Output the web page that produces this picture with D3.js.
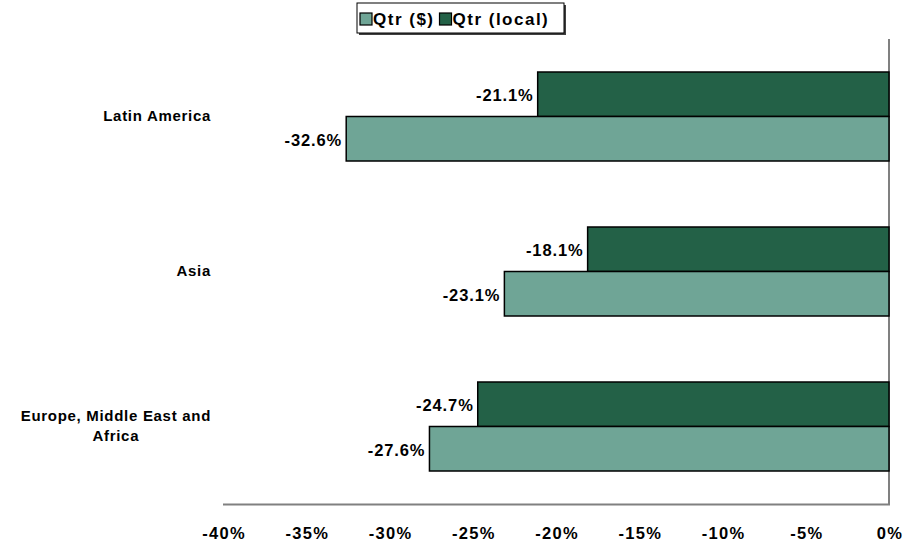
<!DOCTYPE html>
<html><head><meta charset="utf-8">
<script src="https://cdn.jsdelivr.net/npm/d3@7"></script>
<style>
body{margin:0;background:#fff;}
svg text{font-family:"Liberation Sans",Arial,sans-serif;font-weight:bold;fill:#000;}
</style></head>
<body><svg id="c" width="904" height="550"></svg>
<script>
const categories = ["Latin America", "Asia", "Europe, Middle East and Africa"];
const categoryLines = [["Latin America"], ["Asia"], ["Europe, Middle East and", "Africa"]];
const seriesNames = ["Qtr (local)", "Qtr ($)"];
const legendNames = ["Qtr ($)", "Qtr (local)"];
const qtrLocal = [-21.1, -18.1, -24.7];
const qtrUSD = [-32.6, -23.1, -27.6];
const xTicks = [-40, -35, -30, -25, -20, -15, -10, -5, 0];
const colors = {"Qtr ($)": "#6fa596", "Qtr (local)": "#236147"};

const svg = d3.select("#c");
const x = d3.scaleLinear().domain([-40, 0]).range([223, 889]);
const y = d3.scaleBand().domain(categories).range([39, 504]).paddingInner(66/155).paddingOuter(33/155);
const ys = d3.scaleBand().domain(seriesNames).range([0, y.bandwidth()]);

const data = [];
categories.forEach((c, i) => {
  data.push({cat: c, s: "Qtr (local)", v: qtrLocal[i]});
  data.push({cat: c, s: "Qtr ($)", v: qtrUSD[i]});
});

// axes lines
svg.append("line").attr("x1", x(-40)).attr("x2", x(0)+1).attr("y1", 504.5).attr("y2", 504.5)
  .attr("stroke", "#808080").attr("stroke-width", 2);
svg.append("line").attr("x1", x(0)).attr("x2", x(0)).attr("y1", 39).attr("y2", 505)
  .attr("stroke", "#808080").attr("stroke-width", 2);

// bars
svg.selectAll("rect.bar").data(data).enter().append("rect")
  .attr("x", d => x(d.v)).attr("width", d => x(0) - x(d.v))
  .attr("y", d => y(d.cat) + ys(d.s)).attr("height", ys.bandwidth())
  .attr("fill", d => colors[d.s]).attr("stroke", "#000").attr("stroke-width", 1.5);

// data labels
svg.selectAll("text.lbl").data(data).enter().append("text")
  .attr("x", d => x(d.v) - 4).attr("y", d => y(d.cat) + ys(d.s) + ys.bandwidth()/2 + 7)
  .attr("text-anchor", "end").style("font-size", "16.5px").style("letter-spacing", "0.9px")
  .text(d => d.v.toFixed(1) + "%");

// x tick labels
svg.selectAll("text.tick").data(xTicks).enter().append("text")
  .attr("x", d => x(d) + 1).attr("y", 539).attr("text-anchor", "middle")
  .style("font-size", "16.5px").style("letter-spacing", "1.3px")
  .text(d => d + "%");

// category labels
categories.forEach((c, i) => {
  const lines = categoryLines[i];
  const g = svg.append("g");
  const ts = lines.map((ln, j) => g.append("text").attr("text-anchor", "middle")
    .style("font-size", "15px").style("letter-spacing", "0.7px").text(ln));
  const w = d3.max(ts, t => t.node().getComputedTextLength());
  const cy = y(c) + y.bandwidth()/2 - 1;
  const lh = 20;
  ts.forEach((t, j) => t.attr("x", 211 - w/2)
    .attr("y", cy + (j - (lines.length-1)/2) * lh + 5));
});

// legend
const lg = svg.append("g");
lg.append("rect").attr("x", 359).attr("y", 5).attr("width", 207).attr("height", 30).attr("fill", "#404040");
lg.append("rect").attr("x", 357).attr("y", 3).attr("width", 207).attr("height", 30).attr("fill", "#fff")
  .attr("stroke", "#000").attr("stroke-width", 1);
let lx = 360;
legendNames.forEach(n => {
  lg.append("rect").attr("x", lx).attr("y", 13).attr("width", 12).attr("height", 12)
    .attr("fill", colors[n]).attr("stroke", "#000").attr("stroke-width", 1.2);
  const t = lg.append("text").attr("x", lx + 13).attr("y", 25).style("font-size", "17px")
    .style("letter-spacing", "1.5px").text(n);
  lx = lx + 13 + t.node().getComputedTextLength() + 5;
});
</script></body></html>
